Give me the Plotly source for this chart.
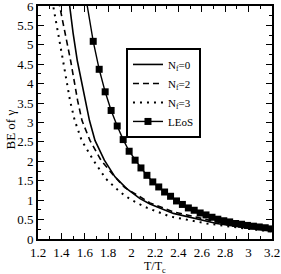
import plotly.graph_objects as go

# Nf = 0 (solid)
nf0_x = [1.45, 1.47, 1.50, 1.536, 1.602, 1.64, 1.687, 1.767, 1.858, 1.958, 2.072, 2.157, 2.357, 2.642, 2.727, 3.0, 3.2]
nf0_y = [6.5, 6.0, 5.3, 4.59, 3.56, 3.05, 2.54, 2.03, 1.60, 1.30, 1.04, 0.90, 0.66, 0.45, 0.40, 0.28, 0.21]

# Nf = 2 (dashed)
nf2_x = [1.37, 1.385, 1.479, 1.539, 1.576, 1.644, 1.738, 1.85, 1.94, 2.07, 2.157, 2.357, 2.727, 3.0, 3.2]
nf2_y = [6.4, 6.0, 4.59, 3.56, 3.05, 2.54, 2.03, 1.62, 1.33, 1.08, 0.93, 0.70, 0.44, 0.32, 0.25]

# Nf = 3 (dotted)
nf3_x = [1.31, 1.33, 1.414, 1.474, 1.514, 1.573, 1.673, 1.78, 1.901, 1.986, 2.072, 2.134, 2.328, 2.642, 3.0, 3.2]
nf3_y = [6.5, 6.0, 4.59, 3.56, 3.05, 2.54, 2.03, 1.55, 1.21, 1.03, 0.89, 0.80, 0.58, 0.40, 0.26, 0.20]

# LEoS (line with squares)
leos_x = [1.672, 1.723, 1.774, 1.825, 1.877, 1.928, 1.979, 2.030, 2.080, 2.131, 2.181, 2.232,
          2.282, 2.333, 2.384, 2.434, 2.485, 2.535, 2.586, 2.636, 2.687, 2.737, 2.788, 2.838,
          2.889, 2.940, 2.990, 3.041, 3.091, 3.142, 3.193]
leos_y = [5.09, 4.37, 3.79, 3.31, 2.91, 2.56, 2.26, 2.03, 1.83, 1.64, 1.47, 1.34,
          1.21, 1.10, 0.98, 0.89, 0.80, 0.74, 0.67, 0.62, 0.56, 0.51, 0.47, 0.44,
          0.40, 0.38, 0.35, 0.33, 0.31, 0.29, 0.26]
leos_ext_x = [1.60, 1.62, 1.672]
leos_ext_y = [6.45, 6.02, 5.09]

font_family = "Times New Roman"

fig = go.Figure()
fig.add_trace(go.Scatter(x=nf0_x, y=nf0_y, mode="lines", name="N<sub>f</sub>=0",
                         line=dict(color="black", width=1.6)))
fig.add_trace(go.Scatter(x=nf2_x, y=nf2_y, mode="lines", name="N<sub>f</sub>=2",
                         line=dict(color="black", width=1.6, dash="6px,4px")))
fig.add_trace(go.Scatter(x=nf3_x, y=nf3_y, mode="lines", name="N<sub>f</sub>=3",
                         line=dict(color="black", width=2, dash="2px,5px")))
fig.add_trace(go.Scatter(x=leos_ext_x, y=leos_ext_y, mode="lines", showlegend=False,
                         line=dict(color="black", width=1.4)))
fig.add_trace(go.Scatter(x=leos_x, y=leos_y, mode="lines+markers", name="LEoS",
                         line=dict(color="black", width=1.4),
                         marker=dict(symbol="square", size=7, color="black")))

axis_common = dict(
    showline=True, linecolor="black", linewidth=2, mirror="allticks",
    ticks="inside", ticklen=6, tickwidth=1, tickcolor="black",
    showgrid=False, zeroline=False, automargin=False,
    ticklabeloverflow="allow",
    tickfont=dict(family=font_family, size=13, color="black"),
)

fig.update_xaxes(range=[1.2, 3.2], dtick=0.2, tick0=1.2,
                 minor=dict(ticks="inside", ticklen=3, dtick=0.1, tickcolor="black", showgrid=False),
                 **axis_common)
fig.update_yaxes(range=[0, 6], dtick=0.5, tick0=0,
                 minor=dict(ticks="inside", ticklen=3, dtick=0.25, tickcolor="black", showgrid=False),
                 **axis_common)

fig.update_layout(
    width=281, height=274,
    margin=dict(l=38, r=9, t=6, b=35),
    paper_bgcolor="white", plot_bgcolor="white",
    showlegend=True,
    legend=dict(x=0.376, y=0.82, xanchor="left", yanchor="top",
                bordercolor="black", borderwidth=2, bgcolor="white",
                font=dict(family=font_family, size=11, color="black"),
                tracegroupgap=0, itemwidth=30),
    annotations=[
        dict(text="T/T<sub>c</sub>", xref="paper", yref="paper", x=0.5, y=0,
             yshift=-18, xanchor="center", yanchor="top", showarrow=False,
             font=dict(family=font_family, size=12, color="black")),
        dict(text="BE of γ", xref="paper", yref="paper", x=0, y=0.47,
             xshift=-28, xanchor="center", yanchor="middle", textangle=-90, showarrow=False,
             font=dict(family=font_family, size=13, color="black")),
    ],
)

fig.write_html("out.html", config={"displayModeBar": False},
               post_script="document.body.style.margin='0';document.body.style.padding='0';")
